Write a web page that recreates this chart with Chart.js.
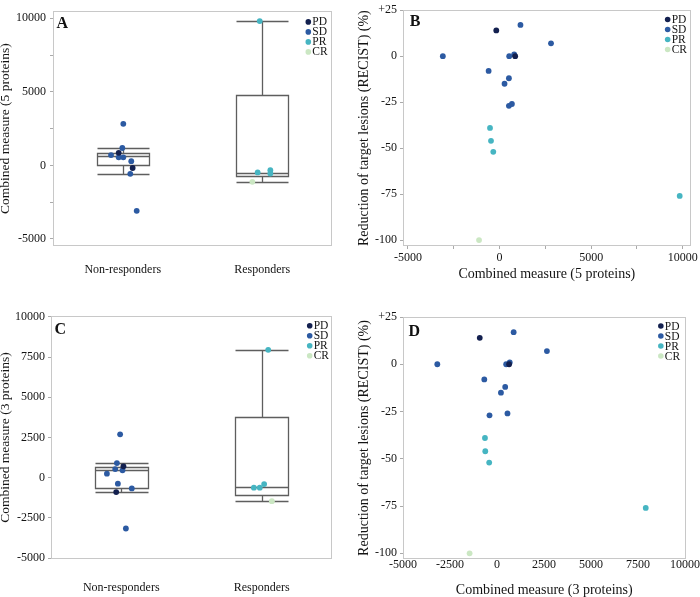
<!DOCTYPE html>
<html><head><meta charset="utf-8">
<script src="https://cdn.jsdelivr.net/npm/chart.js@4.4.1/dist/chart.umd.min.js"></script>
<style>
html,body{margin:0;padding:0;background:#fff;}
#wrap{position:relative;width:700px;height:597px;overflow:hidden;background:#fff;}
canvas{position:absolute;}
</style></head><body>
<div id="wrap">
<canvas id="cA" width="350" height="297" style="left:0;top:0"></canvas>
<canvas id="cB" width="350" height="297" style="left:350px;top:0"></canvas>
<canvas id="cC" width="350" height="300" style="left:0;top:297px"></canvas>
<canvas id="cD" width="350" height="300" style="left:350px;top:297px"></canvas>
</div>
<script>
// ================= DATA =================
const responseClasses = ['PD', 'SD', 'PR', 'CR'];
const groupLabels = ['Non-responders', 'Responders'];
const groupPositions = [1, 2];

// Panel A: combined measure (5 proteins), strip points (class, horizontal jitter position, value)
const stripA_class = ['SD','SD','PD','SD','SD','SD','SD','PD','SD','SD','PR','PR','PR','PR','CR'];
const stripA_pos   = [1.004,0.997,0.971,0.916,0.971,1.004,1.061,1.071,1.054,1.100,1.982,1.967,2.058,2.058,1.929];
const stripA_value = [2825,1183,854,703,545,545,283,-177,-572,-3088,9810,-480,-330,-560,-1117];
// box stats [min, q1, median, q3, max]
const boxA_nonresp = [-591, 20, 637, 834, 1183];
const boxA_resp    = [-1117, -723, -506, 4750, 9810];
const yTicksA = [-5000, -2500, 0, 2500, 5000, 7500, 10000];

// Panel C: combined measure (3 proteins)
const stripC_class = ['SD','SD','SD','PD','SD','SD','SD','SD','PD','SD','PR','PR','PR','PR','CR'];
const stripC_pos   = [0.992,0.969,0.957,1.016,1.009,0.898,0.976,1.075,0.964,1.033,2.046,1.944,1.986,2.017,2.072];
const stripC_value = [2700,910,536,704,455,249,-374,-667,-898,-3161,7955,-623,-623,-399,-1459];
const boxC_nonresp = [-898, -648, 499, 642, 910];
const boxC_resp    = [-1475, -1060, -603, 3803, 7955];
const yTicksC = [-5000, -2500, 0, 2500, 5000, 7500, 10000];

// Panels B and D: patients
const patientClass = ['PD','SD','SD','SD','SD','SD','PD','SD','SD','SD','SD','SD','PR','PR','PR','PR','CR'];
const recist       = [14, 17, 7, 0, 0, 1, 0, -8, -12, -15, -27, -26, -39, -46, -52, -76, -100];
const combined5    = [-179, 1141, 2808, -3096, 527, 798, 853, -597, 511, 272, 511, 674, -521, -467, -342, 9832, -1119];
const combined3    = [-917, 886, 2656, -3175, 488, 678, 644, -675, 436, 210, -398, 557, -640, -623, -415, 7913, -1458];
const recistTicks  = [25, 0, -25, -50, -75, -100];
const xTicksB = [-5000, -2500, 0, 2500, 5000, 7500, 10000];
const xTicksD = [-5000, -2500, 0, 2500, 5000, 7500, 10000];

// ================= STYLE =================
const FONT = "'Liberation Serif','Times New Roman',serif";
const TXT = '#141414';
const FRAME = '#c8c8c8';
const TICKC = '#aaaaaa';
const BOXC = '#5e5e5e';
const classColors = { PD: '#13204f', SD: '#2c5aa2', PR: '#46b5c2', CR: '#cbe7c3' };

function datasetsFrom(cls, xs, ys) {
  return responseClasses.map(c => ({
    label: c,
    data: cls.map((k, i) => k === c ? { x: xs[i], y: ys[i] } : null).filter(Boolean),
    backgroundColor: classColors[c],
    borderWidth: 0,
    pointRadius: 2.9,
    pointHoverRadius: 2.9
  }));
}
const fixedWidth = w => s => { s.width = w; };
const fixedHeight = h => s => { s.height = h; };
const setTicks = vals => s => { s.ticks = vals.map(v => ({ value: v })); };

function makeBox(stats, centers, halfWidth) {
  return {
    id: 'boxes',
    beforeDatasetsDraw(chart) {
      const { ctx, scales: { x, y } } = chart;
      ctx.save();
      ctx.strokeStyle = BOXC;
      ctx.lineWidth = 1.3;
      const py = v => Math.round(y.getPixelForValue(v)) + 0.5;
      stats.forEach((s, i) => {
        const [mn, q1, md, q3, mx] = s;
        const c = centers[i];
        const xl = Math.round(x.getPixelForValue(c - halfWidth)) + 0.5;
        const xr = Math.round(x.getPixelForValue(c + halfWidth)) + 0.5;
        const xc = Math.round(x.getPixelForValue(c)) + 0.5;
        ctx.beginPath();
        ctx.moveTo(xc, py(q3)); ctx.lineTo(xc, py(mx));
        ctx.moveTo(xc, py(q1)); ctx.lineTo(xc, py(mn));
        ctx.moveTo(xl, py(mx)); ctx.lineTo(xr, py(mx));
        ctx.moveTo(xl, py(mn)); ctx.lineTo(xr, py(mn));
        ctx.moveTo(xl, py(md)); ctx.lineTo(xr, py(md));
        ctx.rect(xl, py(q3), xr - xl, py(q1) - py(q3));
        ctx.stroke();
      });
      ctx.restore();
    }
  };
}

function makeDeco(cfg) {
  return {
    id: 'deco',
    beforeDatasetsDraw(chart) {
      const { ctx, chartArea: a } = chart;
      ctx.save();
      ctx.strokeStyle = FRAME;
      ctx.lineWidth = 1;
      ctx.strokeRect(Math.round(a.left) + 0.5, Math.round(a.top) + 0.5,
        Math.round(a.right - a.left) - 1, Math.round(a.bottom - a.top) - 1);
      ctx.restore();
    },
    afterDatasetsDraw(chart) {
      const { ctx, chartArea: a } = chart;
      ctx.save();
      ctx.fillStyle = '#111';
      ctx.font = 'bold 16px ' + FONT;
      ctx.textBaseline = 'alphabetic';
      ctx.textAlign = 'left';
      ctx.fillText(cfg.letter, a.left + cfg.letterDx, a.top + cfg.letterDy);
      responseClasses.forEach((c, i) => {
        const y = a.top + cfg.legDy + i * 10;
        const x = a.right - cfg.legDx;
        ctx.fillStyle = classColors[c];
        ctx.beginPath(); ctx.arc(x, y, 2.8, 0, Math.PI * 2); ctx.fill();
        ctx.fillStyle = TXT;
        ctx.font = '11.5px ' + FONT;
        ctx.textBaseline = 'middle';
        ctx.fillText(c, x + 4, y + 0.5);
      });
      ctx.restore();
    }
  };
}

const baseOpts = (pad) => ({
  responsive: false, animation: false, devicePixelRatio: 1,
  layout: { padding: pad },
  plugins: { legend: { display: false }, tooltip: { enabled: false } }
});
const tickFont = (lh) => ({ family: FONT, size: 12, lineHeight: lh || 1.2 });

// ---------- Panel A ----------
new Chart(document.getElementById('cA'), {
  type: 'scatter',
  data: { datasets: datasetsFrom(stripA_class, stripA_pos, stripA_value) },
  options: Object.assign(baseOpts({ top: 3, right: 18, left: 0, bottom: 0 }), {
    scales: {
      x: { type: 'linear', min: 0.5, max: 2.5, afterBuildTicks: setTicks(groupPositions), afterFit: fixedHeight(51),
        grid: { display: false, drawTicks: false }, border: { display: false },
        ticks: { padding: 17, autoSkip: false, maxRotation: 0, color: TXT, font: tickFont(), callback: (v, i) => groupLabels[i] } },
      y: { type: 'linear', min: -5480, max: 10480, afterBuildTicks: setTicks(yTicksA), afterFit: fixedWidth(53),
        grid: { drawOnChartArea: false, tickLength: 3, color: TICKC }, border: { display: false },
        ticks: { padding: 4, autoSkip: false, color: TXT, font: tickFont(), callback: v => v % 5000 === 0 ? String(v) : '' },
        title: { display: true, text: 'Combined measure (5 proteins)', color: TXT, font: { family: FONT, size: 13.5, lineHeight: 1 }, padding: { top: -1, bottom: 0 } } }
    }
  }),
  plugins: [makeBox([boxA_nonresp, boxA_resp], groupPositions, 0.187), makeDeco({ letter: 'A', letterDx: 3.5, letterDy: 17, legDx: 23.7, legDy: 10.7 })]
});

// ---------- Panel B ----------
new Chart(document.getElementById('cB'), {
  type: 'scatter',
  data: { datasets: datasetsFrom(patientClass, combined5, recist) },
  options: Object.assign(baseOpts({ top: 5, right: 8, left: 0, bottom: 0 }), {
    scales: {
      x: { type: 'linear', min: -5270, max: 10430, afterBuildTicks: setTicks(xTicksB), afterFit: fixedHeight(51),
        grid: { drawOnChartArea: false, tickLength: 3, color: TICKC }, border: { display: false },
        ticks: { padding: 2, autoSkip: false, maxRotation: 0, color: TXT, font: tickFont(), callback: v => v % 5000 === 0 ? String(v) : '' },
        title: { display: true, text: 'Combined measure (5 proteins)', color: TXT, font: { family: FONT, size: 14, lineHeight: 1 }, padding: { top: 0, bottom: 16 } } },
      y: { type: 'linear', min: -103.2, max: 25, afterBuildTicks: setTicks(recistTicks), afterFit: fixedWidth(53),
        grid: { drawOnChartArea: false, tickLength: 3, color: TICKC }, border: { display: false },
        ticks: { padding: 3, autoSkip: false, color: TXT, font: tickFont(), callback: v => v > 0 ? '+' + v : String(v) },
        title: { display: true, text: 'Reduction of target lesions (RECIST) (%)', color: TXT, font: { family: FONT, size: 14, lineHeight: 1 }, padding: { top: 7.5, bottom: 0 } } }
    }
  }),
  plugins: [makeDeco({ letter: 'B', letterDx: 6.7, letterDy: 15.8, legDx: 23, legDy: 9.3 })]
});

// ---------- Panel C ----------
new Chart(document.getElementById('cC'), {
  type: 'scatter',
  data: { datasets: datasetsFrom(stripC_class, stripC_pos, stripC_value) },
  options: Object.assign(baseOpts({ top: 19, right: 18, left: 0, bottom: 0 }), {
    scales: {
      x: { type: 'linear', min: 0.5, max: 2.5, afterBuildTicks: setTicks(groupPositions), afterFit: fixedHeight(38),
        grid: { display: false, drawTicks: false }, border: { display: false },
        ticks: { padding: 22, autoSkip: false, maxRotation: 0, color: TXT, font: tickFont(), callback: (v, i) => groupLabels[i] } },
      y: { type: 'linear', min: -5060, max: 10060, afterBuildTicks: setTicks(yTicksC), afterFit: fixedWidth(51),
        grid: { drawOnChartArea: false, tickLength: 3, color: TICKC }, border: { display: false },
        ticks: { padding: 3, autoSkip: false, color: TXT, font: tickFont(), callback: v => String(v) },
        title: { display: true, text: 'Combined measure (3 proteins)', color: TXT, font: { family: FONT, size: 13.5, lineHeight: 1 }, padding: { top: -1, bottom: 0 } } }
    }
  }),
  plugins: [makeBox([boxC_nonresp, boxC_resp], groupPositions, 0.19), makeDeco({ letter: 'C', letterDx: 3.6, letterDy: 18.3, legDx: 22.3, legDy: 9.7 })]
});

// ---------- Panel D ----------
new Chart(document.getElementById('cD'), {
  type: 'scatter',
  data: { datasets: datasetsFrom(patientClass, combined3, recist) },
  options: Object.assign(baseOpts({ top: 20, right: 8, left: 0, bottom: 0 }), {
    scales: {
      x: { type: 'linear', min: -5000, max: 10030, afterBuildTicks: setTicks(xTicksD), afterFit: fixedHeight(38),
        grid: { display: false, drawTicks: false }, border: { display: false },
        ticks: { padding: 0, autoSkip: false, maxRotation: 0, color: TXT, font: tickFont(1), callback: v => String(v) },
        title: { display: true, text: 'Combined measure (3 proteins)', color: TXT, font: { family: FONT, size: 14, lineHeight: 1 }, padding: { top: 0, bottom: 0 } } },
      y: { type: 'linear', min: -103, max: 25, afterBuildTicks: setTicks(recistTicks), afterFit: fixedWidth(53),
        grid: { drawOnChartArea: false, tickLength: 3, color: TICKC }, border: { display: false },
        ticks: { padding: 3, autoSkip: false, color: TXT, font: tickFont(), callback: v => v > 0 ? '+' + v : String(v) },
        title: { display: true, text: 'Reduction of target lesions (RECIST) (%)', color: TXT, font: { family: FONT, size: 14, lineHeight: 1 }, padding: { top: 7.5, bottom: 0 } } }
    }
  }),
  plugins: [makeDeco({ letter: 'D', letterDx: 5.4, letterDy: 18.7, legDx: 24.7, legDy: 9 })]
});
</script>
</body></html>
